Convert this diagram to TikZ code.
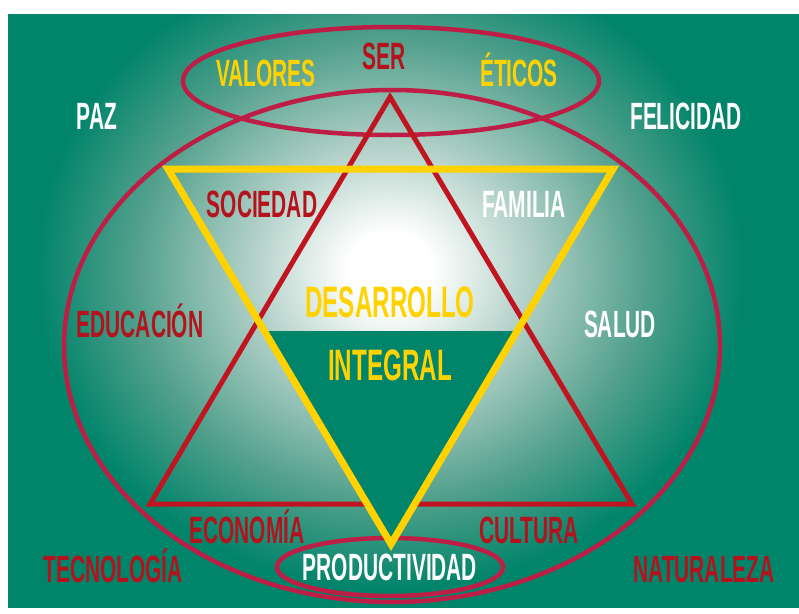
\documentclass[tikz,border=0pt]{standalone}
\usepackage{fontspec}
\newfontfamily\labelfont{Liberation Sans}[FakeStretch=0.55]

\definecolor{bggreen}{RGB}{0,132,106}
\definecolor{haloA}{RGB}{175,207,198}
\definecolor{haloB}{RGB}{82,160,140}
\definecolor{ringred}{RGB}{190,30,70}
\definecolor{trired}{RGB}{192,20,32}
\definecolor{textred}{RGB}{180,18,28}
\definecolor{gold}{RGB}{255,210,0}

% the path box maps to +-25bp, so 12.5bp is half the ellipse radius
\pgfdeclareradialshading{halo}{\pgfpointorigin}{color(0bp)=(white); color(1.5bp)=(white); color(5bp)=(haloA); color(9bp)=(haloB); color(12.5bp)=(bggreen); color(50bp)=(bggreen)}

\begin{document}
\begin{tikzpicture}[x=1pt, y=-1pt,
  word/.style={font=\labelfont\bfseries\fontsize{38}{38}\selectfont, inner sep=0pt, anchor=base},
  bigword/.style={word, font=\labelfont\bfseries\fontsize{44}{44}\selectfont},
  ring/.style={draw=ringred, line width=4.5pt},
  redline/.style={draw=trired, line width=5pt},
  goldline/.style={draw=gold, line width=7pt}]
\useasboundingbox (0,0) rectangle (799,613);

% === Background ===
\begin{scope}
  \clip (8,14) rectangle (799,607);
  \fill[bggreen] (8,14) rectangle (799,607);
  \shade[shading=halo] (390,270) ellipse [x radius=710pt, y radius=640pt];
\end{scope}

% === Rings ===
\draw[ring] (392,346) ellipse [x radius=328pt, y radius=256pt];
\draw[ring] (391,81) ellipse [x radius=208pt, y radius=54pt];
\draw[ring] (390,567) ellipse [x radius=113pt, y radius=29pt];

% === Triangles ===
\coordinate (RedTop) at (390,97);
\coordinate (RedLeft) at (150,504);
\coordinate (RedRight) at (632,504);
\coordinate (GoldLeft) at (168,169);
\coordinate (GoldRight) at (613,169);
\coordinate (GoldBottom) at (391,544);

\draw[redline] (RedTop) -- (RedLeft) -- (RedRight) -- cycle;

\begin{scope}
  \clip (0,331) rectangle (799,613);
  \fill[bggreen] (GoldLeft) -- (GoldRight) -- (GoldBottom) -- cycle;
\end{scope}

\draw[goldline] (GoldLeft) -- (GoldRight) -- (GoldBottom) -- cycle;

% === Labels ===
\foreach \name/\px/\py/\col/\txt in {
    Ser/384/69/textred/SER,
    Valores/266/86/gold/VALORES,
    Eticos/519/86/gold/ÉTICOS,
    Paz/97/129/white/PAZ,
    Felicidad/686/129/white/FELICIDAD,
    Sociedad/262/217/textred/SOCIEDAD,
    Familia/524/217/white/FAMILIA,
    Educacion/140/337/textred/EDUCACIÓN,
    Salud/620/337/white/SALUD,
    Economia/247/543/textred/ECONOMÍA,
    Cultura/529/543/textred/CULTURA,
    Tecnologia/113/582/textred/TECNOLOGÍA,
    Productividad/390/580/white/PRODUCTIVIDAD,
    Naturaleza/704/582/textred/NATURALEZA}{
  \node[word, text=\col] (Label-\name) at (\px,\py) {\txt};
}

\node[bigword, text=gold] (Label-Desarrollo) at (390,317) {DESARROLLO};
\node[bigword, text=gold] (Label-Integral) at (390,380) {INTEGRAL};

\end{tikzpicture}
\end{document}
